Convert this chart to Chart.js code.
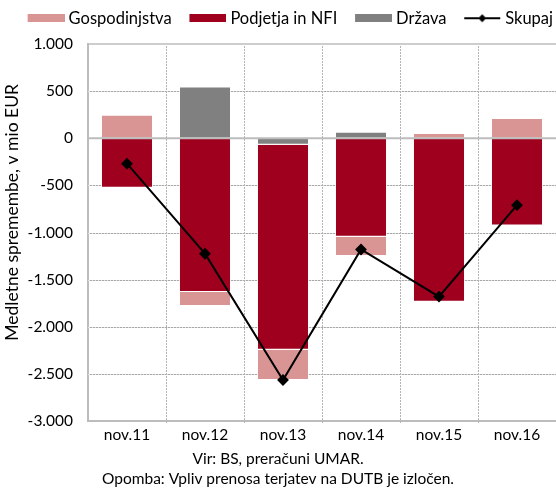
<!DOCTYPE html>
<html>
<head>
<meta charset="utf-8">
<script src="https://cdn.jsdelivr.net/npm/chart.js@4"></script>
<style>
  html, body { margin: 0; padding: 0; background: #fff; }
</style>
</head>
<body>
<canvas id="chart" width="556" height="489"></canvas>
<script>
// Podatki (medletne spremembe, v mio EUR)
const categories = ['nov.11', 'nov.12', 'nov.13', 'nov.14', 'nov.15', 'nov.16'];
const gospodinjstva = [250, -150, -320, -205, 55, 215];
const podjetja = [-525, -1630, -2175, -1045, -1735, -925];
const drzava = [0, 550, -70, 70, 0, 0];
const skupaj = [-270, -1225, -2565, -1180, -1680, -710];
const footerLines = ['Vir: BS, preračuni UMAR.', 'Opomba: Vpliv prenosa terjatev na DUTB je izločen.'];

const FONT = 'Lato';
const C_GOSP = '#d99594';
const C_PODJ = '#9e001e';
const C_DRZ = '#808080';
const GRID = '#b4b4b4';
const GRID_H = '#a8a8a8';
const GRID_H_BG = '#e2e2e2';
const FRAME = '#bcbcbc';

// slike za legendo (prozoren rob levo = razmik med elementi)
const LM = 12;
function boxImg(color) {
  const c = document.createElement('canvas');
  c.width = 37 + LM; c.height = 8;
  const x = c.getContext('2d');
  x.fillStyle = color;
  x.fillRect(LM, 0, 37, 8);
  return c;
}
function lineImg() {
  const c = document.createElement('canvas');
  c.width = 37 + LM; c.height = 10;
  const x = c.getContext('2d');
  x.strokeStyle = '#000';
  x.lineWidth = 2;
  x.beginPath(); x.moveTo(LM, 5); x.lineTo(LM + 36, 5); x.stroke();
  x.fillStyle = '#000';
  const cx = LM + 18;
  x.beginPath(); x.moveTo(cx, 1); x.lineTo(cx + 4, 5); x.lineTo(cx, 9); x.lineTo(cx - 4, 5); x.closePath(); x.fill();
  return c;
}
const legendImgs = [boxImg(C_GOSP), boxImg(C_PODJ), boxImg(C_DRZ), lineImg()];

function fmt(v) {
  const s = Math.abs(v).toString().replace(/\B(?=(\d{3})+(?!\d))/g, '.');
  return (v < 0 ? '-' : '') + s;
}

// legenda: fiksna višina in zamik v desno
const legendFix = {
  id: 'legendFix',
  beforeLayout(chart) {
    const lg = chart.legend;
    if (lg && !lg._fixed) {
      const fit = lg.fit;
      lg.fit = function () { fit.call(this); this.height = 44; };
      lg._fixed = true;
    }
  },
  afterLayout(chart) {
    const lg = chart.legend;
    if (lg) { lg.left += 7; lg.right += 7; }
  }
};

// pikčasta mreža (iz oznak osi)
const dottedGrid = {
  id: 'dottedGrid',
  beforeDatasetsDraw(chart) {
    const { ctx, chartArea: a, scales: { x, y } } = chart;
    ctx.save();
    y.ticks.forEach(t => {
      if (t.value === 0 || t.value === y.max || t.value === y.min) return;
      const py = Math.round(y.getPixelForValue(t.value));
      ctx.fillStyle = GRID_H_BG;
      ctx.fillRect(a.left, py, a.right - a.left, 1);
      ctx.fillStyle = GRID_H;
      for (let px = a.left + 2; px < a.right; px += 3) ctx.fillRect(px, py, 2, 1);
    });
    ctx.fillStyle = GRID;
    const step = x.getPixelForValue(1) - x.getPixelForValue(0);
    for (let i = 0; i < categories.length; i++) {
      const bx = Math.round(x.getPixelForValue(i) + step / 2);
      if (bx >= a.right - 1) continue;
      for (let py = a.top + 2; py < a.bottom; py += 3) ctx.fillRect(bx, py, 1, 2);
    }
    ctx.restore();
  },
  // polna črta pri 0 in zgornji rob okvirja
  afterDatasetsDraw(chart) {
    const { ctx, chartArea: a, scales: { y } } = chart;
    ctx.save();
    ctx.strokeStyle = FRAME;
    ctx.lineWidth = 1.5;
    ctx.beginPath();
    ctx.moveTo(a.left, y.getPixelForValue(1000));
    ctx.lineTo(a.right, y.getPixelForValue(1000));
    ctx.stroke();
    ctx.lineWidth = 2;
    ctx.beginPath();
    ctx.moveTo(a.left, y.getPixelForValue(0));
    ctx.lineTo(a.right, y.getPixelForValue(0));
    ctx.stroke();
    ctx.restore();
  }
};

new Chart(document.getElementById('chart'), {
  type: 'bar',
  data: {
    labels: categories,
    datasets: [
      {
        label: 'Gospodinjstva',
        data: gospodinjstva,
        backgroundColor: C_GOSP,
        borderColor: 'rgba(255,255,255,0.6)',
        borderWidth: 1,
        stack: 'bars',
        order: 3,
      },
      {
        label: 'Podjetja in NFI',
        data: podjetja,
        backgroundColor: C_PODJ,
        borderColor: 'rgba(255,255,255,0.5)',
        borderWidth: 1,
        stack: 'bars',
        order: 2,
      },
      {
        label: 'Država',
        data: drzava,
        backgroundColor: C_DRZ,
        borderColor: 'rgba(255,255,255,0.6)',
        borderWidth: 1,
        stack: 'bars',
        order: 1,
      },
      {
        type: 'line',
        label: 'Skupaj',
        data: skupaj,
        borderColor: '#000',
        backgroundColor: '#000',
        borderWidth: 2,
        pointStyle: 'rectRot',
        pointRadius: 4.5,
        tension: 0,
        stack: 'line',
        order: 0,
      }
    ]
  },
  plugins: [legendFix, dottedGrid],
  options: {
    responsive: false,
    animation: false,
    layout: { autoPadding: false, padding: 0 },
    datasets: {
      bar: { barPercentage: 1, categoryPercentage: 0.667 }
    },
    plugins: {
      legend: {
        position: 'top',
        align: 'end',
        labels: {
          usePointStyle: true,
          pointStyleWidth: 40.5,
          padding: 10,
          color: '#000',
          font: { family: FONT, size: 16.5 },
          generateLabels: (chart) => {
            const items = Chart.defaults.plugins.legend.labels.generateLabels(chart);
            items.forEach(it => { it.pointStyle = legendImgs[it.datasetIndex]; });
            return items;
          },
          sort: (a, b) => a.datasetIndex - b.datasetIndex,
        }
      },
      title: {
        display: true,
        position: 'bottom',
        text: footerLines,
        color: '#000',
        font: { family: FONT, size: 15.5, weight: 'normal', lineHeight: 1.29 },
        padding: { top: 1, bottom: 0 },
      },
      tooltip: { enabled: false }
    },
    scales: {
      x: {
        stacked: true,
        afterFit: (scale) => { scale.height = 27; },
        grid: { drawOnChartArea: false, drawTicks: false, offset: true },
        border: { color: FRAME, width: 2 },
        ticks: { color: '#000', font: { family: FONT, size: 15.5 }, padding: 5 },
      },
      y: {
        stacked: true,
        min: -3000,
        max: 1000,
        afterFit: (scale) => { scale.width = 88; },
        grid: { drawOnChartArea: false, drawTicks: false },
        border: { color: FRAME, width: 2 },
        ticks: {
          stepSize: 500,
          color: '#000',
          padding: 15,
          font: { family: FONT, size: 15.5 },
          callback: (v) => fmt(v),
        },
        title: {
          display: true,
          text: '         Medletne spremembe, v mio EUR',
          color: '#000',
          font: { family: FONT, size: 17.5 },
          padding: { top: 2, bottom: 0 },
        }
      }
    }
  }
});
</script>
</body>
</html>
